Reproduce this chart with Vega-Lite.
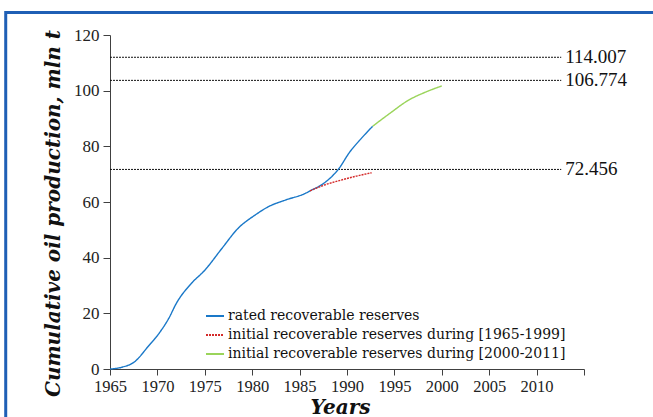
{
  "$schema": "https://vega.github.io/schema/vega-lite/v6.json",
  "width": 474,
  "height": 334,
  "autosize": {"type": "none"},
  "padding": {"left": 110, "top": 35, "right": 69, "bottom": 48},
  "background": "white",
  "config": {
    "view": {"stroke": null},
    "font": "Liberation Serif",
    "axis": {"grid": false, "domainColor": "#404040", "tickColor": "#404040", "labelColor": "#222222", "titleColor": "#111111"}
  },
  "datasets": {
    "series": [
      {"year": 1965.0, "value": 0.0, "series": "rated recoverable reserves"},
      {"year": 1966.2, "value": 0.6, "series": "rated recoverable reserves"},
      {"year": 1967.6, "value": 2.6, "series": "rated recoverable reserves"},
      {"year": 1969.0, "value": 8.0, "series": "rated recoverable reserves"},
      {"year": 1970.3, "value": 13.4, "series": "rated recoverable reserves"},
      {"year": 1971.2, "value": 18.2, "series": "rated recoverable reserves"},
      {"year": 1972.0, "value": 23.6, "series": "rated recoverable reserves"},
      {"year": 1973.6, "value": 30.8, "series": "rated recoverable reserves"},
      {"year": 1975.0, "value": 35.5, "series": "rated recoverable reserves"},
      {"year": 1976.8, "value": 43.3, "series": "rated recoverable reserves"},
      {"year": 1978.5, "value": 50.5, "series": "rated recoverable reserves"},
      {"year": 1980.3, "value": 55.3, "series": "rated recoverable reserves"},
      {"year": 1981.7, "value": 58.3, "series": "rated recoverable reserves"},
      {"year": 1983.5, "value": 60.7, "series": "rated recoverable reserves"},
      {"year": 1985.6, "value": 63.1, "series": "rated recoverable reserves"},
      {"year": 1986.1, "value": 64.0, "series": "rated recoverable reserves"},
      {"year": 1987.5, "value": 66.6, "series": "rated recoverable reserves"},
      {"year": 1989.1, "value": 71.8, "series": "rated recoverable reserves"},
      {"year": 1990.3, "value": 78.0, "series": "rated recoverable reserves"},
      {"year": 1991.5, "value": 82.8, "series": "rated recoverable reserves"},
      {"year": 1992.7, "value": 87.2, "series": "rated recoverable reserves"},
      {"year": 1986.1, "value": 64.0, "series": "initial recoverable reserves during [1965-1999]"},
      {"year": 1987.7, "value": 66.2, "series": "initial recoverable reserves during [1965-1999]"},
      {"year": 1989.3, "value": 67.8, "series": "initial recoverable reserves during [1965-1999]"},
      {"year": 1991.0, "value": 69.3, "series": "initial recoverable reserves during [1965-1999]"},
      {"year": 1992.6, "value": 70.5, "series": "initial recoverable reserves during [1965-1999]"},
      {"year": 1992.7, "value": 87.2, "series": "initial recoverable reserves during [2000-2011]"},
      {"year": 1994.5, "value": 91.8, "series": "initial recoverable reserves during [2000-2011]"},
      {"year": 1996.5, "value": 96.6, "series": "initial recoverable reserves during [2000-2011]"},
      {"year": 1998.3, "value": 99.5, "series": "initial recoverable reserves during [2000-2011]"},
      {"year": 2000.0, "value": 101.7, "series": "initial recoverable reserves during [2000-2011]"}
    ],
    "levels": [
      {"level": 112.0, "label": "114.007"},
      {"level": 103.7, "label": "106.774"},
      {"level": 71.7, "label": "72.456"}
    ],
    "frame": [
      {"x1": 1954.0, "x2": 2035.0, "y1": 128.1, "y2": -30}
    ]
  },
  "layer": [
    {
      "data": {"name": "frame"},
      "mark": {"type": "rect", "filled": false, "color": "#1f5fb5", "strokeWidth": 3, "clip": false},
      "encoding": {
        "x": {"field": "x1", "type": "quantitative"},
        "x2": {"field": "x2"},
        "y": {"field": "y1", "type": "quantitative"},
        "y2": {"field": "y2"}
      }
    },
    {
      "data": {"name": "levels"},
      "mark": {"type": "rule", "color": "#111111", "strokeWidth": 1, "strokeDash": [2, 1]},
      "encoding": {
        "x": {"datum": 1965, "type": "quantitative"},
        "x2": {"datum": 2012.6},
        "y": {"field": "level", "type": "quantitative"}
      }
    },
    {
      "data": {"name": "levels"},
      "mark": {"type": "text", "align": "left", "baseline": "middle", "fontSize": 19, "color": "#111111", "dx": 4, "font": "Liberation Serif"},
      "encoding": {
        "x": {"datum": 2012.6, "type": "quantitative"},
        "y": {"field": "level", "type": "quantitative"},
        "text": {"field": "label"}
      }
    },
    {
      "data": {"name": "series"},
      "mark": {"type": "line", "interpolate": "monotone", "strokeWidth": 1.4},
      "encoding": {
        "x": {
          "field": "year", "type": "quantitative",
          "scale": {"domain": [1965, 2015], "nice": false, "zero": false},
          "axis": {
            "values": [1965, 1970, 1975, 1980, 1985, 1990, 1995, 2000, 2005, 2010, 2015],
            "labelExpr": "datum.value == 2015 ? '' : datum.label",
            "format": "d",
            "labelFont": "Liberation Serif",
            "labelFontSize": 16.5,
            "tickSize": 6,
            "labelPadding": 3,
            "title": "Years",
            "titleFont": "DejaVu Serif",
            "titleFontSize": 20,
            "titleFontStyle": "italic",
            "titleFontWeight": "bold",
            "titlePadding": 3,
            "titleX": 230,
            "labelFlush": false
          }
        },
        "y": {
          "field": "value", "type": "quantitative",
          "scale": {"domain": [0, 120], "nice": false},
          "axis": {
            "values": [0, 20, 40, 60, 80, 100, 120],
            "labelFont": "Liberation Serif",
            "labelFontSize": 17,
            "tickSize": 7,
            "labelPadding": 4,
            "title": "Cumulative oil production, mln t",
            "titleFont": "DejaVu Serif",
            "titleFontSize": 20,
            "titleFontStyle": "italic",
            "titleFontWeight": "bold",
            "titlePadding": 10,
            "titleY": 178
          }
        },
        "color": {
          "field": "series", "type": "nominal",
          "scale": {
            "domain": ["rated recoverable reserves", "initial recoverable reserves during [1965-1999]", "initial recoverable reserves during [2000-2011]"],
            "range": ["#1a78c8", "#d42a2a", "#9ad45a"]
          },
          "legend": {
            "title": null,
            "orient": "none",
            "legendX": 95,
            "legendY": 271,
            "symbolType": "stroke",
            "symbolSize": 324,
            "symbolStrokeWidth": 2,
            "labelFontSize": 14,
            "labelFont": "DejaVu Serif",
            "labelColor": "#111111",
            "labelOffset": 3,
            "rowPadding": 2,
            "labelLimit": 500
          }
        },
        "strokeDash": {
          "field": "series", "type": "nominal",
          "scale": {
            "domain": ["rated recoverable reserves", "initial recoverable reserves during [1965-1999]", "initial recoverable reserves during [2000-2011]"],
            "range": [[1, 0], [2, 1], [1, 0]]
          },
          "legend": null
        }
      }
    }
  ]
}
